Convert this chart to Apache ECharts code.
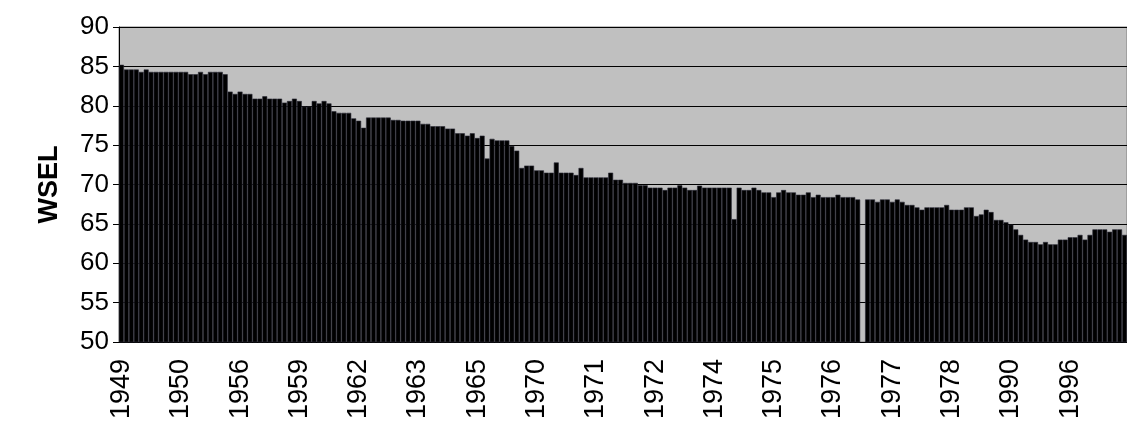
<!DOCTYPE html>
<html>
<head>
<meta charset="utf-8">
<script src="https://cdn.jsdelivr.net/npm/echarts@6/dist/echarts.min.js"></script>
<style>html,body{margin:0;padding:0;background:#fff}#chart{width:1127px;height:433px}</style>
</head>
<body>
<div id="chart"></div>
<script>
// tick labels shown under every 12th bar
const yearLabels = ['1949','1950','1956','1959','1962','1963','1965','1970','1971','1972','1974','1975','1976','1977','1978','1990','1996'];

// water surface elevation, one value per bar ('-' = missing reading)
const wsel = [
  85.2, 84.6, 84.6, 84.6, 84.3, 84.6, 84.3, 84.3, 84.3, 84.3,
  84.3, 84.3, 84.3, 84.3, 84.0, 84.0, 84.3, 84.0, 84.3, 84.3,
  84.3, 84.0, 81.8, 81.5, 81.8, 81.5, 81.5, 80.9, 80.9, 81.2,
  80.9, 80.9, 80.9, 80.4, 80.6, 80.9, 80.6, 79.9, 79.9, 80.6,
  80.3, 80.6, 80.3, 79.3, 79.1, 79.1, 79.1, 78.4, 78.1, 77.2,
  78.5, 78.5, 78.5, 78.5, 78.5, 78.2, 78.2, 78.1, 78.1, 78.1,
  78.1, 77.7, 77.7, 77.4, 77.4, 77.4, 77.1, 77.1, 76.5, 76.5,
  76.2, 76.5, 75.9, 76.2, 73.3, 75.8, 75.6, 75.6, 75.6, 74.9,
  74.3, 72.1, 72.4, 72.4, 71.8, 71.8, 71.5, 71.5, 72.8, 71.5,
  71.5, 71.5, 71.2, 72.1, 70.9, 70.9, 70.9, 70.9, 70.9, 71.5,
  70.6, 70.6, 70.2, 70.2, 70.2, 69.9, 69.9, 69.6, 69.6, 69.6,
  69.3, 69.6, 69.6, 69.9, 69.6, 69.3, 69.3, 69.85, 69.6, 69.6,
  69.6, 69.6, 69.6, 69.6, 65.6, 69.6, 69.3, 69.3, 69.6, 69.3,
  69.0, 69.0, 68.4, 69.0, 69.3, 69.0, 69.0, 68.7, 68.7, 69.0,
  68.4, 68.7, 68.4, 68.4, 68.4, 68.7, 68.4, 68.4, 68.4, 68.1,
  '-',  68.1, 68.1, 67.8, 68.1, 68.1, 67.8, 68.1, 67.8, 67.4,
  67.4, 67.1, 66.8, 67.1, 67.1, 67.1, 67.1, 67.4, 66.8, 66.8,
  66.8, 67.1, 67.1, 66.0, 66.2, 66.8, 66.5, 65.5, 65.5, 65.2,
  64.9, 64.3, 63.6, 63.0, 62.7, 62.7, 62.4, 62.7, 62.4, 62.4,
  63.0, 63.0, 63.3, 63.3, 63.6, 63.0, 63.6, 64.3, 64.3, 64.3,
  64.0, 64.3, 64.3, 63.6
];
const labelEvery = 12;
const categories = wsel.map((v, i) => String(i));

const chart = echarts.init(document.getElementById('chart'));
chart.setOption({
  animation: false,
  grid: {
    left: 119, right: 0, top: 27, bottom: 91,
    show: true, backgroundColor: '#c0c0c0', borderColor: '#808080', borderWidth: 1
  },
  xAxis: {
    type: 'category',
    data: categories,
    axisLine: { lineStyle: { color: '#000', width: 1 } },
    axisTick: { interval: 0, length: 7, lineStyle: { color: '#000' } },
    axisLabel: {
      interval: labelEvery - 1,
      rotate: 90,
      margin: 17,
      color: '#000',
      fontFamily: 'Liberation Sans, Arial',
      fontSize: 27,
      formatter: (v, i) => yearLabels[i / labelEvery] || ''
    }
  },
  yAxis: {
    type: 'value',
    min: 50, max: 90, interval: 5,
    name: 'WSEL',
    nameLocation: 'middle',
    nameGap: 56,
    nameTextStyle: { color: '#000', fontFamily: 'Liberation Sans, Arial', fontSize: 27, fontWeight: 'bold' },
    axisLine: { show: true, lineStyle: { color: '#000' } },
    axisTick: { show: true, length: 6, lineStyle: { color: '#000' } },
    axisLabel: { color: '#000', fontFamily: 'Liberation Sans, Arial', fontSize: 26, margin: 10 },
    splitLine: { lineStyle: { color: '#000', width: 1 } }
  },
  series: [{
    type: 'bar',
    data: wsel,
    barCategoryGap: '0%',
    itemStyle: { color: '#000', borderColor: '#2a2a36', borderWidth: 0.6 }
  }]
});
</script>
</body>
</html>
